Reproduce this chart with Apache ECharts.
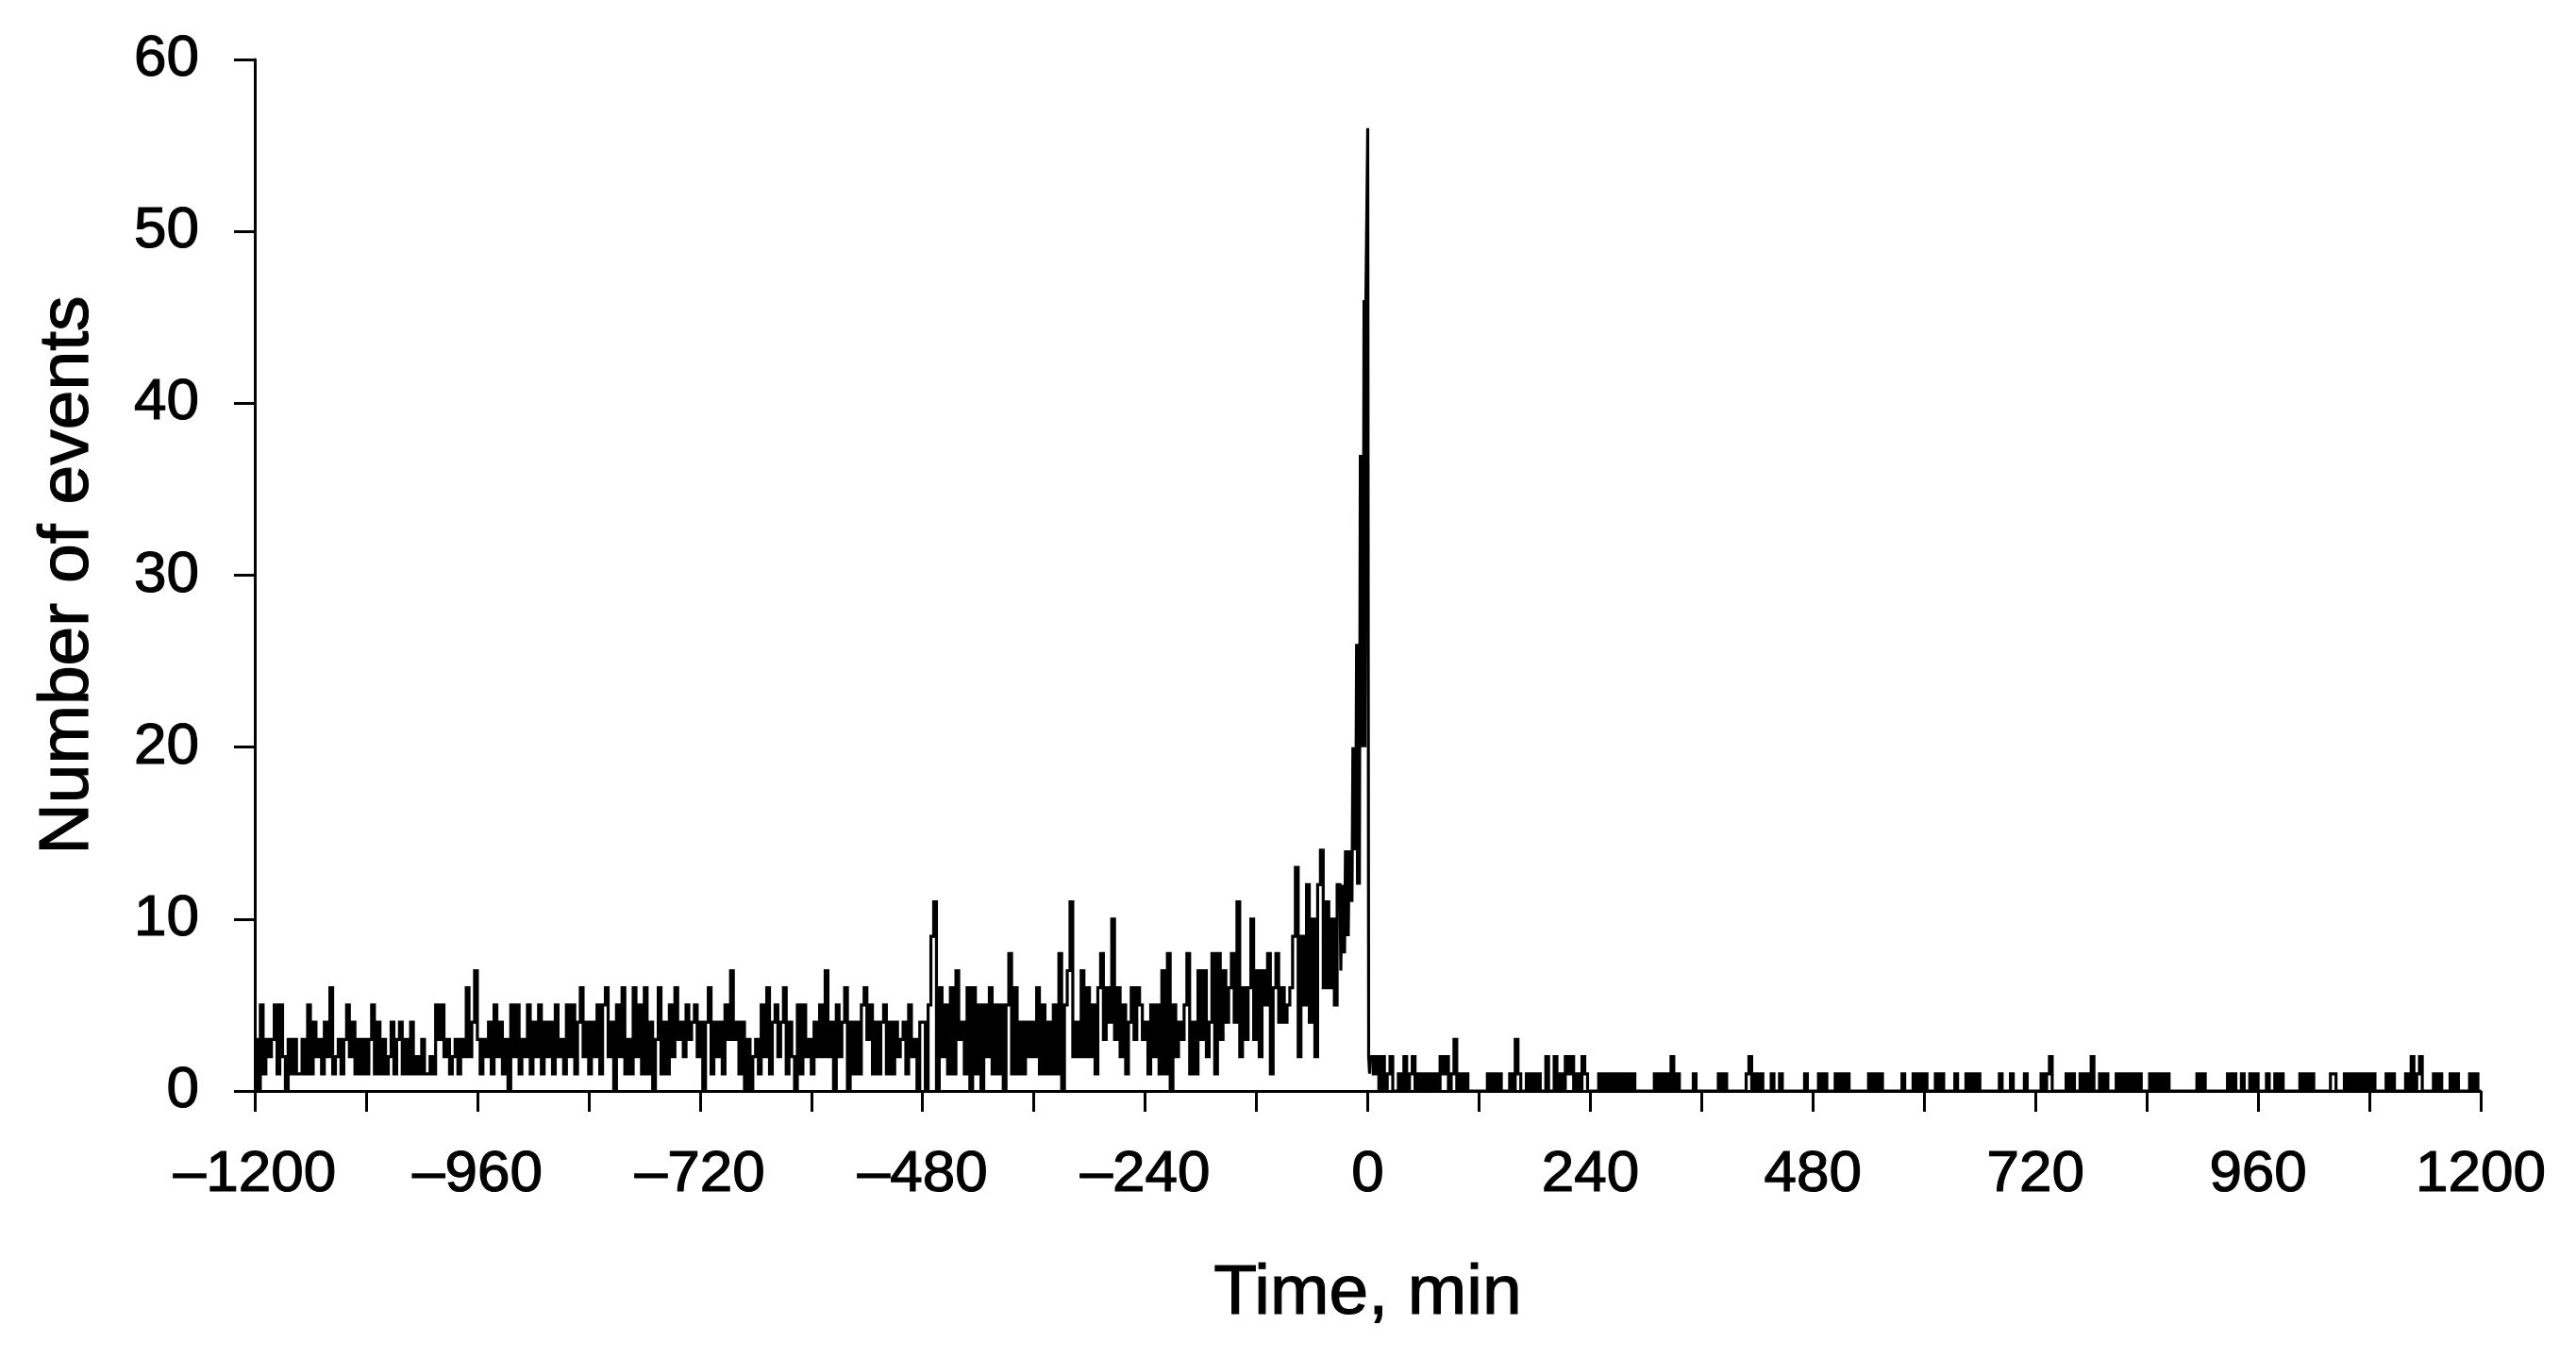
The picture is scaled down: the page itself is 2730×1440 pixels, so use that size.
<!DOCTYPE html>
<html>
<head>
<meta charset="utf-8">
<script src="https://cdn.jsdelivr.net/npm/echarts@6/dist/echarts.min.js"></script>
<style>
html,body{margin:0;padding:0;background:#fff;}
#chart{width:2730px;height:1440px;}
</style>
</head>
<body>
<div id="chart"></div>
<script>
// ---- Data ----
// Counts per 3-minute bin before the peak (bins start at -1200, -1197, ...)
const seg_m1200 = [3,0,5,1,3,2,3,5,1,5, 2,0,3,1,3,1,1,3,1,5, 1,4,2,3,1,4,2,6,1,2, 3,1,3,5,2,4,1,3,1,3,
                   1,3,5,1,4,1,3,1,2,4, 1,3,4,1,3,1,4,1,2,1, 3,1,1,2,1,5,3,5,2,3, 1,2,3,1,3,2,6,2,4,7];
const seg_m960  = [3,1,3,2,4,1,5,2,4,1, 3,0,5,2,5,1,3,2,5,1, 4,2,5,1,4,2,4,1,5,2, 3,1,5,2,5,1,4,6,2,4,
                   1,4,2,5,1,5,6,2,4,0, 5,2,6,1,3,1,6,2,5,1, 6,1,4,0,3,6,1,4,1,5, 2,6,3,4,2,5,3,4,5,2];
const seg_m720  = [4,0,4,6,1,4,2,4,1,5, 3,7,3,4,1,4,0,3,0,2, 3,1,5,2,6,1,4,5,2,4, 6,1,4,2,0,5,1,5,2,3,
                   1,4,2,5,2,7,2,4,0,5, 2,4,6,0,4,1,4,1,5,6, 3,5,1,4,1,4,5,1,4,1, 4,2,3,4,1,5,2,3,0,4];
const seg_m480  = [4,0,5,9,11,0,6,2,5,1, 6,1,7,3,4,1,6,0,6,1, 5,0,5,2,6,1,5,1,5,0, 5,8,1,6,1,4,1,4,2,4,
                   2,6,1,5,1,4,1,5,1,8, 0,5,7,11,2,4,2,7,2,6, 2,5,1,6,8,3,6,4,10,3, 6,2,5,1,4,6,3,6,5,3];
// -240 .. -30 (3-minute bins)
const seg_m240  = [4,1,5,2,5,1,7,1,8,0, 5,2,4,3,5,8,1,4,1,7, 3,7,2,4,8,1,8,3,7,4, 6,8,4,11,2,6,3,6,10,3,
                   7,2,7,5,8,1,6,8,4,6, 4,5,6,9,13,2,9,5,12,4, 10,2,12,14,6,11,6,10,5,12];
// Per-minute counts around the peak, from -30 to +2 min
const peakCounts = [12,7,12,8,12,8,14,9,14,9, 14,11,14,11,20,14,20,14,26,12, 26,12,37,20,37,20,46,20,46,46,
                    56,2,1];
// Counts per 3-minute bin after the peak (first bin starts at +3 min)
const seg_p3    = [2,1,2,0,2,0,1,2,0, 0,1,0,2,0,1,2,0,1,0, 1,0,1,0,1,0,2,1,2,0, 1,3,0,1,0,1,0,0,0,0,
                   0,0,0,1,0,1,0,1,0,0, 0,1,0,3,1,0,0,1,0,1, 0,1,0,0,2,0,0,2,0,1, 0,2,1,2,0,1,0,2,1,0];
const seg_p240  = [0,0,0,1,0,1,0,1,0,1, 0,1,0,1,0,1,0,0,0,0, 0,0,0,1,0,1,0,1,0,2, 0,1,0,0,0,0,0,1,0,0,
                   0,0,0,0,0,0,1,0,1,0, 0,0,0,0,0,0,1,2,0,1, 0,1,0,0,0,1,0,0,1,0, 0,0,0,0,0,0,0,1,0,0];
const seg_p480  = [0,0,1,0,1,0,0,0,1,0, 1,0,1,0,0,0,0,0,0,0, 1,0,1,0,1,0,0,0,0,0, 0,0,1,0,0,0,1,0,1,0,
                   1,0,0,0,1,0,1,0,0,0, 0,1,0,0,0,1,0,1,0,1, 0,0,0,0,0,0,0,1,0,0, 0,1,0,0,0,0,1,0,0,0];
const seg_p720  = [0,0,1,0,1,2,0,0,0,0, 0,1,0,1,0,0,1,0,1,0, 2,0,0,1,0,1,0,0,0,1, 0,1,0,1,0,1,0,1,0,0,
                   0,1,0,1,0,1,0,1,0,0, 0,0,0,0,0,0,0,0,1,0, 1,0,0,0,0,0,0,0,0,1, 0,1,0,0,1,0,0,1,0,1];
const seg_p960  = [0,0,0,1,0,0,1,0,1,0, 0,0,0,0,0,1,0,1,0,1, 0,0,0,0,0,0,1,1,0,0, 0,1,0,1,0,1,0,1,0,1,
                   0,1,0,0,0,0,1,0,1,0, 0,0,0,1,0,2,0,1,2,0, 0,0,0,1,0,1,0,0,0,1, 0,1,0,0,0,0,1,0,1,0];

// Axis tick labels
const xLabelValues = [-1200,-960,-720,-480,-240,0,240,480,720,960,1200];
const yLabelValues = [0,10,20,30,40,50,60];

// ---- Build [time, count] pairs ----
const seriesData = [];
function addSeg(start, step, arr) {
  arr.forEach((v, i) => seriesData.push([start + i * step, v]));
  return start + arr.length * step;
}
let t = -1200;
t = addSeg(t, 3, [].concat(seg_m1200, seg_m960, seg_m720, seg_m480, seg_m240));
t = addSeg(t, 1, peakCounts);
t = addSeg(t, 3, [].concat(seg_p3, seg_p240, seg_p480, seg_p720, seg_p960));
seriesData.push([t, seriesData[seriesData.length - 1][1]]);

const FONT = 'Liberation Sans, Arial, Helvetica, sans-serif';
const textThick = {textBorderColor: '#000', textBorderWidth: 1.2};
const chart = echarts.init(document.getElementById('chart'), null, {renderer: 'canvas'});
chart.setOption({
  animation: false,
  backgroundColor: '#ffffff',
  grid: {left: 270, right: 101, top: 63, bottom: 284, containLabel: false, outerBoundsMode: 'none'},
  xAxis: {
    type: 'value',
    min: xLabelValues[0],
    max: xLabelValues[xLabelValues.length - 1],
    interval: 120,
    name: 'Time, min',
    nameLocation: 'middle',
    nameGap: 178,
    nameTextStyle: Object.assign({fontFamily: FONT, fontSize: 75, color: '#000'}, textThick),
    axisLine: {show: true, onZero: true, lineStyle: {color: '#000', width: 3}},
    axisTick: {show: true, inside: false, length: 22, lineStyle: {color: '#000', width: 3}},
    axisLabel: Object.assign({
      show: true, margin: 58, fontFamily: FONT, fontSize: 62, color: '#000',
      showMinLabel: true, showMaxLabel: true, hideOverlap: false,
      formatter: function (v) {
        if (xLabelValues.indexOf(v) < 0) return '';
        return v < 0 ? '\u2013' + Math.abs(v) : String(v);
      }
    }, textThick),
    splitLine: {show: false}
  },
  yAxis: {
    type: 'value',
    min: yLabelValues[0],
    max: yLabelValues[yLabelValues.length - 1],
    interval: 10,
    name: 'Number of events',
    nameLocation: 'middle',
    nameGap: 160,
    nameTextStyle: Object.assign({fontFamily: FONT, fontSize: 75, color: '#000'}, textThick),
    axisLine: {show: true, onZero: false, lineStyle: {color: '#000', width: 3}},
    axisTick: {show: true, inside: false, length: 22, lineStyle: {color: '#000', width: 3}},
    axisLabel: Object.assign({show: true, margin: 59, fontFamily: FONT, fontSize: 62, color: '#000'}, textThick),
    splitLine: {show: false}
  },
  series: [{
    type: 'line',
    step: 'end',
    data: seriesData,
    showSymbol: false,
    symbol: 'none',
    clip: true,
    lineStyle: {color: '#000', width: 3.2, join: 'miter', cap: 'butt'},
    z: 1
  }]
});
</script>
</body>
</html>
